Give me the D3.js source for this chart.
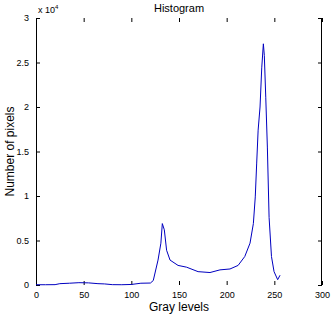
<!DOCTYPE html>
<html>
<head>
<meta charset="utf-8">
<script src="https://cdn.jsdelivr.net/npm/d3@7"></script>
<style>
  body { margin: 0; background: #fff; }
  text { font-family: "Liberation Sans", Arial, sans-serif; fill: #000; }
</style>
</head>
<body>
<div id="chart"></div>
<script>
// histogram values (counts)
const grayLevels = [0, 10, 20, 25, 35, 45, 55, 65, 72, 80, 90, 100, 110, 120, 123, 128, 131, 132.5, 134.6, 137, 140.6, 149, 158, 170, 182.5, 193, 203.5, 212, 219, 224.5, 228, 230, 231.5, 233, 235, 236.8, 238.5, 239.5, 241, 242.7, 244.5, 247, 249.7, 253.5, 256];
const counts = [30, 30, 40, 150, 200, 260, 240, 150, 120, 40, 30, 60, 200, 220, 500, 2800, 4700, 6900, 6200, 3900, 2800, 2200, 2000, 1500, 1400, 1700, 1800, 2200, 3200, 4700, 6900, 9900, 13700, 17400, 20000, 24400, 27100, 25800, 21100, 15500, 7600, 3200, 1500, 600, 1100];
const xTicks = [0, 50, 100, 150, 200, 250, 300];
const yTicks = [0, 5000, 10000, 15000, 20000, 25000, 30000];
const yTickLabels = ["0", "0.5", "1", "1.5", "2", "2.5", "3"];

const W = 332, H = 316;
const margin = {top: 18, right: 10, bottom: 31, left: 36};
const width = W - margin.left - margin.right,
  height = H - margin.top - margin.bottom;

const svg = d3.select("#chart").append("svg")
  .attr("width", W)
  .attr("height", H);
const g = svg.append("g")
  .attr("transform", `translate(${margin.left}, ${margin.top})`);

const x = d3.scaleLinear().domain([0, 300]).range([0, width]);
const y = d3.scaleLinear().domain([0, 30000]).range([height, 0]);

// bottom axis, ticks pointing inward
const xAxisG = g.append("g")
  .attr("transform", `translate(0, ${height})`)
  .call(d3.axisBottom(x).tickValues(xTicks).tickSize(-4).tickPadding(7));
xAxisG.select(".domain").remove();
xAxisG.selectAll("text").style("font-size", "9px");

// top ticks
g.append("g")
  .call(d3.axisTop(x).tickValues(xTicks).tickSize(-4).tickFormat(""))
  .select(".domain").remove();

// left axis
const yAxisG = g.append("g")
  .call(d3.axisLeft(y).tickValues(yTicks).tickSize(-4).tickPadding(7)
    .tickFormat((d, i) => yTickLabels[i]));
yAxisG.select(".domain").remove();
yAxisG.selectAll("text").style("font-size", "9px");

// right ticks
g.append("g")
  .attr("transform", `translate(${width}, 0)`)
  .call(d3.axisRight(y).tickValues(yTicks).tickSize(-4).tickFormat(""))
  .select(".domain").remove();

// vertical box edges
g.append("line").attr("x1", 0.5).attr("x2", 0.5).attr("y1", 0).attr("y2", height)
  .attr("stroke", "#000");
g.append("line").attr("x1", width - 0.5).attr("x2", width - 0.5).attr("y1", 0).attr("y2", height)
  .attr("stroke", "#000");

// data line
const line = d3.line()
  .x((d, i) => x(grayLevels[i]))
  .y(d => y(d));
g.append("path")
  .datum(counts)
  .attr("fill", "none")
  .attr("stroke", "#0000c0")
  .attr("stroke-width", 1)
  .attr("d", line);

// exponent label
const expo = svg.append("text")
  .attr("x", margin.left + 2)
  .attr("y", 13)
  .style("font-size", "9px");
expo.append("tspan").text("x 10");
expo.append("tspan").attr("dy", -4).style("font-size", "6px").text("4");

// title
svg.append("text")
  .attr("x", margin.left + width / 2)
  .attr("y", 12)
  .attr("text-anchor", "middle")
  .style("font-size", "11px")
  .text("Histogram");

// axis labels
svg.append("text")
  .attr("x", margin.left + width / 2)
  .attr("y", 311)
  .attr("text-anchor", "middle")
  .style("font-size", "12px")
  .text("Gray levels");

svg.append("text")
  .attr("transform", `translate(14, ${margin.top + height / 2}) rotate(-90)`)
  .attr("text-anchor", "middle")
  .style("font-size", "12px")
  .text("Number of pixels");
</script>
</body>
</html>
